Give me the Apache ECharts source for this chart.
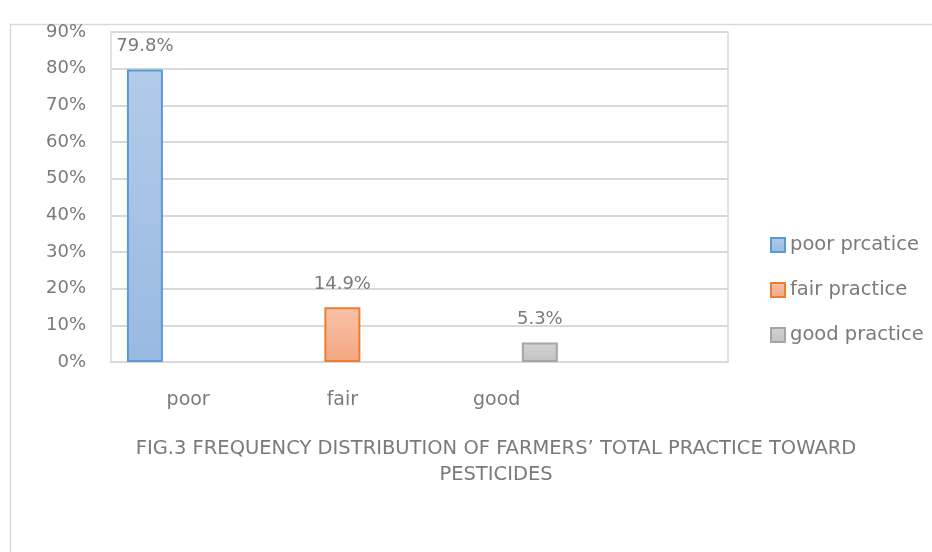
<!DOCTYPE html>
<html>
<head>
<meta charset="utf-8">
<script src="https://cdn.jsdelivr.net/npm/echarts@6/dist/echarts.min.js"></script>
<style>html,body{margin:0;padding:0;background:#fff;}#c{width:932px;height:552px;}</style>
</head>
<body>
<div id="c"></div>
<script>
var categories = ['poor', 'fair', 'good', ''];
var seriesNames = ['poor prcatice', 'fair practice', 'good practice'];
var poorValues = [79.8, '-', '-', '-'];
var fairValues = ['-', 14.9, '-', '-'];
var goodValues = ['-', '-', 5.3, '-'];
var yTicks = { min: 0, max: 90, interval: 10 };
var titleText = 'FIG.3 FREQUENCY DISTRIBUTION OF FARMERS\u2019 TOTAL PRACTICE TOWARD\nPESTICIDES';

var textColor = '#7a7a7a';
var font = 'DejaVu Sans';

function grad(top, bottom) {
  return new echarts.graphic.LinearGradient(0, 0, 0, 1, [
    { offset: 0, color: top }, { offset: 1, color: bottom }
  ]);
}

function mkSeries(name, data, fillTop, fillBottom, border) {
  return {
    name: name,
    type: 'bar',
    data: data,
    barWidth: 36,
    barGap: '20%',
    itemStyle: { color: grad(fillTop, fillBottom), borderColor: border, borderWidth: 2 },
    label: {
      show: true, position: 'top', distance: 14,
      formatter: function (p) { return p.value + '%'; },
      color: textColor, fontFamily: font, fontSize: 18
    }
  };
}

var chart = echarts.init(document.getElementById('c'));
chart.setOption({
  animation: false,
  backgroundColor: '#fff',
  textStyle: { fontFamily: font },
  graphic: [{
    type: 'rect', silent: true,
    shape: { x: 10.5, y: 24.5, width: 940, height: 560 },
    style: { fill: 'none', stroke: '#d9d9d9', lineWidth: 1.5 }
  }],
  title: {
    text: titleText,
    left: 491, top: 431, textAlign: 'center',
    textStyle: { color: textColor, fontFamily: font, fontSize: 19.5, fontWeight: 'normal', lineHeight: 26 }
  },
  legend: {
    orient: 'vertical', left: 765, top: 230,
    itemWidth: 14, itemHeight: 14, itemGap: 25,
    icon: 'rect',
    textStyle: { color: textColor, fontFamily: font, fontSize: 19.5 },
    data: seriesNames
  },
  grid: { left: 111, right: 204, top: 32, bottom: 190, show: true, borderColor: '#d9d9d9', borderWidth: 1.5 },
  xAxis: {
    type: 'category', data: categories,
    axisLine: { show: true, lineStyle: { color: '#d9d9d9', width: 2 } },
    axisTick: { show: false },
    axisLabel: { color: textColor, fontFamily: font, fontSize: 19, margin: 29 }
  },
  yAxis: {
    type: 'value', min: yTicks.min, max: yTicks.max, interval: yTicks.interval,
    axisLine: { show: false }, axisTick: { show: false },
    axisLabel: { color: textColor, fontFamily: font, fontSize: 18, margin: 25, formatter: '{value}%' },
    splitLine: { lineStyle: { color: '#d9d9d9', width: 2 } }
  },
  series: [
    mkSeries(seriesNames[0], poorValues, '#b3cbe9', '#98b9e2', '#5b9bd5'),
    mkSeries(seriesNames[1], fairValues, '#f8c2a8', '#f5a683', '#ed7d31'),
    mkSeries(seriesNames[2], goodValues, '#d2d2d2', '#c3c3c3', '#a5a5a5')
  ]
});
</script>
</body>
</html>
